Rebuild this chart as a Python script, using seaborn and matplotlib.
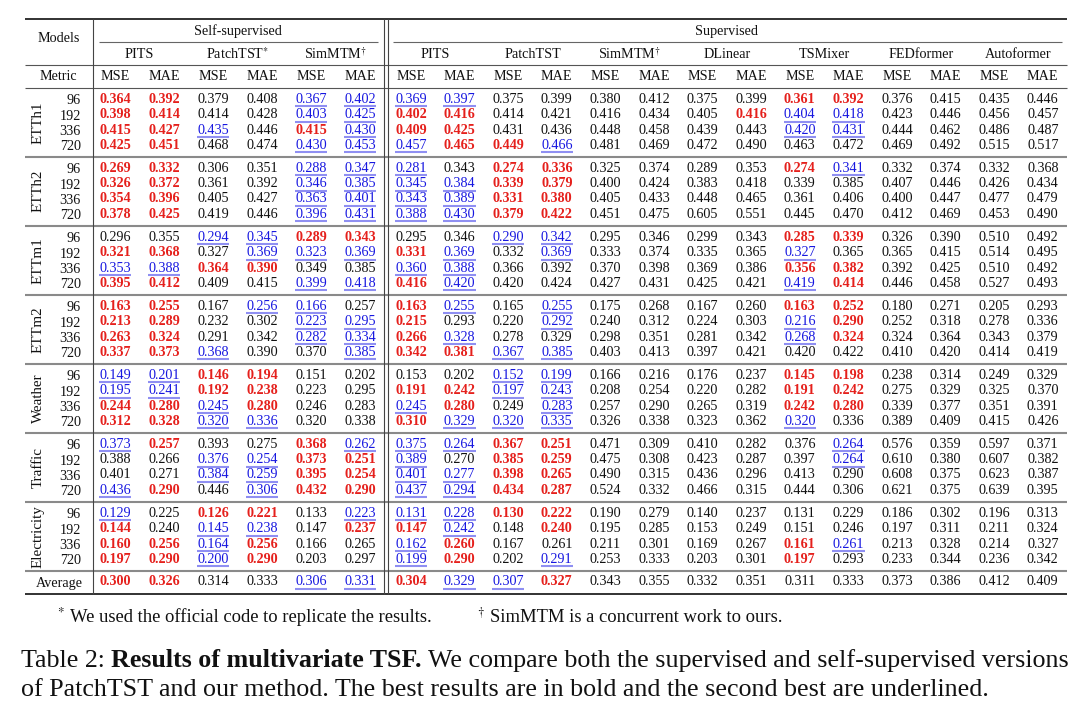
import numpy as np
import pandas as pd
import matplotlib
matplotlib.use("Agg")
import matplotlib.pyplot as plt
from matplotlib.colors import ListedColormap
import seaborn as sns

# ---------------- data ----------------
datasets = ["ETTh1", "ETTh2", "ETTm1", "ETTm2", "Weather", "Traffic", "Electricity"]
horizons = ["96", "192", "336", "720"]
ssl_models = ["PITS", "PatchTST*", "SimMTM†"]
sup_models = ["PITS", "PatchTST", "SimMTM†", "DLinear", "TSMixer", "FEDformer", "Autoformer"]
metrics = ["MSE", "MAE"]

etth1 = [
    [0.364, 0.392, 0.379, 0.408, 0.367, 0.402, 0.369, 0.397, 0.375, 0.399, 0.380, 0.412, 0.375, 0.399, 0.361, 0.392, 0.376, 0.415, 0.435, 0.446],
    [0.398, 0.414, 0.414, 0.428, 0.403, 0.425, 0.402, 0.416, 0.414, 0.421, 0.416, 0.434, 0.405, 0.416, 0.404, 0.418, 0.423, 0.446, 0.456, 0.457],
    [0.415, 0.427, 0.435, 0.446, 0.415, 0.430, 0.409, 0.425, 0.431, 0.436, 0.448, 0.458, 0.439, 0.443, 0.420, 0.431, 0.444, 0.462, 0.486, 0.487],
    [0.425, 0.451, 0.468, 0.474, 0.430, 0.453, 0.457, 0.465, 0.449, 0.466, 0.481, 0.469, 0.472, 0.490, 0.463, 0.472, 0.469, 0.492, 0.515, 0.517],
]
etth1_rank = ["rr..bbbb......rr....", "rr..bbrr.....rbb....", "rrb.rbrr......bb....", "rr..bbbrrb.........."]

etth2 = [
    [0.269, 0.332, 0.306, 0.351, 0.288, 0.347, 0.281, 0.343, 0.274, 0.336, 0.325, 0.374, 0.289, 0.353, 0.274, 0.341, 0.332, 0.374, 0.332, 0.368],
    [0.326, 0.372, 0.361, 0.392, 0.346, 0.385, 0.345, 0.384, 0.339, 0.379, 0.400, 0.424, 0.383, 0.418, 0.339, 0.385, 0.407, 0.446, 0.426, 0.434],
    [0.354, 0.396, 0.405, 0.427, 0.363, 0.401, 0.343, 0.389, 0.331, 0.380, 0.405, 0.433, 0.448, 0.465, 0.361, 0.406, 0.400, 0.447, 0.477, 0.479],
    [0.378, 0.425, 0.419, 0.446, 0.396, 0.431, 0.388, 0.430, 0.379, 0.422, 0.451, 0.475, 0.605, 0.551, 0.445, 0.470, 0.412, 0.469, 0.453, 0.490],
]
etth2_rank = ["rr..bbb.rr....rb....", "rr..bbbbrr..........", "rr..bbbbrr..........", "rr..bbbbrr.........."]

ettm1 = [
    [0.296, 0.355, 0.294, 0.345, 0.289, 0.343, 0.295, 0.346, 0.290, 0.342, 0.295, 0.346, 0.299, 0.343, 0.285, 0.339, 0.326, 0.390, 0.510, 0.492],
    [0.321, 0.368, 0.327, 0.369, 0.323, 0.369, 0.331, 0.369, 0.332, 0.369, 0.333, 0.374, 0.335, 0.365, 0.327, 0.365, 0.365, 0.415, 0.514, 0.495],
    [0.353, 0.388, 0.364, 0.390, 0.349, 0.385, 0.360, 0.388, 0.366, 0.392, 0.370, 0.398, 0.369, 0.386, 0.356, 0.382, 0.392, 0.425, 0.510, 0.492],
    [0.395, 0.412, 0.409, 0.415, 0.399, 0.418, 0.416, 0.420, 0.420, 0.424, 0.427, 0.431, 0.425, 0.421, 0.419, 0.414, 0.446, 0.458, 0.527, 0.493],
]
ettm1_rank = ["..bbrr..bb....rr....", "rr.bbbrb.b....b.....", "bbrr..bb......rr....", "rr..bbrb......br...."]

ettm2 = [
    [0.163, 0.255, 0.167, 0.256, 0.166, 0.257, 0.163, 0.255, 0.165, 0.255, 0.175, 0.268, 0.167, 0.260, 0.163, 0.252, 0.180, 0.271, 0.205, 0.293],
    [0.213, 0.289, 0.232, 0.302, 0.223, 0.295, 0.215, 0.293, 0.220, 0.292, 0.240, 0.312, 0.224, 0.303, 0.216, 0.290, 0.252, 0.318, 0.278, 0.336],
    [0.263, 0.324, 0.291, 0.342, 0.282, 0.334, 0.266, 0.328, 0.278, 0.329, 0.298, 0.351, 0.281, 0.342, 0.268, 0.324, 0.324, 0.364, 0.343, 0.379],
    [0.337, 0.373, 0.368, 0.390, 0.370, 0.385, 0.342, 0.381, 0.367, 0.385, 0.403, 0.413, 0.397, 0.421, 0.420, 0.422, 0.410, 0.420, 0.414, 0.419],
]
ettm2_rank = ["rr.bb.rb.b....rr....", "rr..bbr..b....br....", "rr..bbrb......br....", "rrb..brrbb.........."]

weather = [
    [0.149, 0.201, 0.146, 0.194, 0.151, 0.202, 0.153, 0.202, 0.152, 0.199, 0.166, 0.216, 0.176, 0.237, 0.145, 0.198, 0.238, 0.314, 0.249, 0.329],
    [0.195, 0.241, 0.192, 0.238, 0.223, 0.295, 0.191, 0.242, 0.197, 0.243, 0.208, 0.254, 0.220, 0.282, 0.191, 0.242, 0.275, 0.329, 0.325, 0.370],
    [0.244, 0.280, 0.245, 0.280, 0.246, 0.283, 0.245, 0.280, 0.249, 0.283, 0.257, 0.290, 0.265, 0.319, 0.242, 0.280, 0.339, 0.377, 0.351, 0.391],
    [0.312, 0.328, 0.320, 0.336, 0.320, 0.338, 0.310, 0.329, 0.320, 0.335, 0.326, 0.338, 0.323, 0.362, 0.320, 0.336, 0.389, 0.409, 0.415, 0.426],
]
weather_rank = ["bbrr....bb....rr....", "bbrr..rrbb....rr....", "rrbr..br.b....rr....", "rrbb..rbbb....b....."]

traffic = [
    [0.373, 0.257, 0.393, 0.275, 0.368, 0.262, 0.375, 0.264, 0.367, 0.251, 0.471, 0.309, 0.410, 0.282, 0.376, 0.264, 0.576, 0.359, 0.597, 0.371],
    [0.388, 0.266, 0.376, 0.254, 0.373, 0.251, 0.389, 0.270, 0.385, 0.259, 0.475, 0.308, 0.423, 0.287, 0.397, 0.264, 0.610, 0.380, 0.607, 0.382],
    [0.401, 0.271, 0.384, 0.259, 0.395, 0.254, 0.401, 0.277, 0.398, 0.265, 0.490, 0.315, 0.436, 0.296, 0.413, 0.290, 0.608, 0.375, 0.623, 0.387],
    [0.436, 0.290, 0.446, 0.306, 0.432, 0.290, 0.437, 0.294, 0.434, 0.287, 0.524, 0.332, 0.466, 0.315, 0.444, 0.306, 0.621, 0.375, 0.639, 0.395],
]
traffic_rank = ["br..rbbbrr.....b....", "..bbrrb.rr.....b....", "..bbrrbbrr..........", "br.brrbbrr.........."]

electricity = [
    [0.129, 0.225, 0.126, 0.221, 0.133, 0.223, 0.131, 0.228, 0.130, 0.222, 0.190, 0.279, 0.140, 0.237, 0.131, 0.229, 0.186, 0.302, 0.196, 0.313],
    [0.144, 0.240, 0.145, 0.238, 0.147, 0.237, 0.147, 0.242, 0.148, 0.240, 0.195, 0.285, 0.153, 0.249, 0.151, 0.246, 0.197, 0.311, 0.211, 0.324],
    [0.160, 0.256, 0.164, 0.256, 0.166, 0.265, 0.162, 0.260, 0.167, 0.261, 0.211, 0.301, 0.169, 0.267, 0.161, 0.261, 0.213, 0.328, 0.214, 0.327],
    [0.197, 0.290, 0.200, 0.290, 0.203, 0.297, 0.199, 0.290, 0.202, 0.291, 0.253, 0.333, 0.203, 0.301, 0.197, 0.293, 0.233, 0.344, 0.236, 0.342],
]
electricity_rank = ["b.rr.bbbrr..........", "r.bb.rrb.r..........", "rrbr..br......rb....", "rrbr..br.b....r....."]

average = [[0.300, 0.326, 0.314, 0.333, 0.306, 0.331, 0.304, 0.329, 0.307, 0.327, 0.343, 0.355, 0.332, 0.351, 0.311, 0.333, 0.373, 0.386, 0.412, 0.409]]
average_rank = ["rr..bbrbbr.........."]

footnote_star = "We used the official code to replicate the results."
footnote_dagger = "SimMTM is a concurrent work to ours."
caption_label = "Table 2:"
caption_bold = "Results of multivariate TSF."
caption_rest = "We compare both the supervised and self-supervised versions"
caption_line2 = "of PatchTST and our method. The best results are in bold and the second best are underlined."

tables = [etth1, etth2, ettm1, ettm2, weather, traffic, electricity]
ranks = [etth1_rank, etth2_rank, ettm1_rank, ettm2_rank, weather_rank, traffic_rank, electricity_rank]

# ---------------- style ----------------
sns.set_theme(style="white")
SERIF = "Liberation Serif"
plt.rcParams["font.family"] = [SERIF, "DejaVu Serif"]
plt.rcParams["mathtext.fontset"] = "stix"
plt.rcParams["text.color"] = "#111111"

FS = 10.2
RED = "#e5201c"
BLUE = "#1717e0"
ULINE = "#8f8ff2"
INK = "#111111"

W, H = 1080, 707
fig = plt.figure(figsize=(W / 100, H / 100), dpi=100)
fig.patch.set_facecolor("white")

base = fig.add_axes([0, 0, 1, 1])
base.set_xlim(0, W)
base.set_ylim(H, 0)
base.axis("off")


def px_axes(x0, y0, w, h, z=2):
    ax = fig.add_axes([x0 / W, 1 - (y0 + h) / H, w / W, h / H], zorder=z)
    return ax


# layout
LEFT_X0, LEFT_CW, LEFT_N = 90.5, 49.0, 6
RIGHT_X0, RIGHT_CW, RIGHT_N = 386.7, 48.6, 14
TOP = 18.5
RULE_METRIC = 87.7
BLOCK = 69.0
PITCH = 15.4
FIRST_OFF = 11.5
TABLE_L, TABLE_R = 25, 1067
BOTTOM = 593.5

left_centers = [LEFT_X0 + LEFT_CW * (j + 0.5) for j in range(LEFT_N)]
right_centers = [RIGHT_X0 + RIGHT_CW * (j + 0.5) for j in range(RIGHT_N)]
all_centers = left_centers + right_centers

transparent = ListedColormap([(1, 1, 1, 0)])


def draw_grid(vals, rank, y_first_center):
    arr = np.array(vals)
    nrows = arr.shape[0]
    for x0, cw, lo, hi in [(LEFT_X0, LEFT_CW, 0, 6), (RIGHT_X0, RIGHT_CW, 6, 20)]:
        df = pd.DataFrame(arr[:, lo:hi])
        ax = px_axes(x0, y_first_center - PITCH / 2, cw * (hi - lo), PITCH * nrows)
        sns.heatmap(df, ax=ax, annot=True, fmt=".3f", cmap=transparent, vmin=0, vmax=1,
                    cbar=False, xticklabels=False, yticklabels=False,
                    annot_kws=dict(fontsize=FS, family=SERIF))
        ax.set_facecolor("none")
        ax.axis("off")
        hw = 16.2 / cw
        for t in ax.texts:
            x, y = t.get_position()
            j, i = int(x), int(y)
            code = rank[i][lo + j]
            t.set_color(INK)
            if code == "r":
                t.set_color(RED)
                t.set_fontweight("bold")
            elif code == "b":
                t.set_color(BLUE)
                uy = i + 0.5 + 7.0 / PITCH
                ax.plot([j + 0.5 - hw, j + 0.5 + hw], [uy, uy], color=ULINE, lw=1.5,
                        clip_on=False, solid_capstyle="butt")


for b, (vals, rank) in enumerate(zip(tables, ranks)):
    assert all(len(r) == 20 for r in rank)
    top = RULE_METRIC + BLOCK * b
    first = top + FIRST_OFF
    draw_grid(vals, rank, first)
    for i, hz in enumerate(horizons):
        base.text(81, first + PITCH * i, hz, ha="right", va="center_baseline", fontsize=FS, color=INK)
    base.text(38, first + PITCH * 1.5, datasets[b], rotation=90, ha="center", va="center",
              fontsize=FS + 0.6, color=INK)

avg_center = RULE_METRIC + BLOCK * 7 + 11.0
draw_grid(average, average_rank, avg_center)
base.text(59, avg_center, "Average", ha="center", va="center_baseline", fontsize=FS, color=INK)


def mt(label):
    return label.replace("*", r"$^{*}$").replace("†", r"$^{\dagger}$")


# header
base.text(59, 36.5, "Models", ha="center", va="center_baseline", fontsize=FS, color=INK)
base.text((LEFT_X0 + LEFT_X0 + LEFT_CW * LEFT_N) / 2, 30, "Self-supervised", ha="center",
          va="center_baseline", fontsize=FS, color=INK)
base.text((RIGHT_X0 + RIGHT_X0 + RIGHT_CW * RIGHT_N) / 2, 30, "Supervised", ha="center",
          va="center_baseline", fontsize=FS, color=INK)
models_all = ssl_models + sup_models
for k, m in enumerate(models_all):
    cx = (all_centers[2 * k] + all_centers[2 * k + 1]) / 2
    base.text(cx, 53, mt(m), ha="center", va="center_baseline", fontsize=FS, color=INK)
base.text(58, 75.5, "Metric", ha="center", va="center_baseline", fontsize=FS, color=INK)
for k, cx in enumerate(all_centers):
    base.text(cx, 75.5, metrics[k % 2], ha="center", va="center_baseline", fontsize=FS, color=INK)

# rules (overlay)
lines = fig.add_axes([0, 0, 1, 1], zorder=10)
lines.set_xlim(0, W)
lines.set_ylim(H, 0)
lines.axis("off")
lines.set_facecolor("none")
lines.hlines([TOP, BOTTOM], TABLE_L, TABLE_R, color="#222222", lw=1.3)
lines.hlines([41.7], 99, 378, color="#666666", lw=0.8)
lines.hlines([41.7], 393, 1062, color="#666666", lw=0.8)
lines.hlines([65.0, RULE_METRIC], TABLE_L, TABLE_R, color="#555555", lw=0.8)
lines.hlines([RULE_METRIC + BLOCK * k for k in range(1, 8)], TABLE_L, TABLE_R, color="#8a8a8a", lw=1.5)
lines.vlines([92.7, 384.3, 387.6], TOP, BOTTOM, color="#444444", lw=0.8)

# footnotes and caption
fig.canvas.draw()
renderer = fig.canvas.get_renderer()


def width_px(s, size, weight="normal"):
    t = base.text(0, 0, s, fontsize=size, fontweight=weight)
    w = t.get_window_extent(renderer).width
    t.remove()
    return w


def space_px(size, weight="normal"):
    return width_px("x x", size, weight) - width_px("xx", size, weight)


def run(x, y, pieces, size):
    for s, weight in pieces:
        t = base.text(x, y, s, fontsize=size, fontweight=weight, ha="left", va="baseline", color="#111111")
        x += t.get_window_extent(renderer).width + space_px(size, weight)
    return x


def fit(pieces, target):
    ref = 10.0
    total = sum(width_px(s, ref, w) for s, w in pieces) + sum(space_px(ref, w) for s, w in pieces[:-1])
    return ref * target / total


fn_pieces1 = [(r"$^{*}$", "normal"), (footnote_star, "normal")]
fn_size = fit(fn_pieces1, 375)
run(57, 622, fn_pieces1, fn_size)
run(477, 622, [(r"$^{\dagger}$", "normal"), (footnote_dagger, "normal")], fn_size)

cap1 = [(caption_label, "normal"), (caption_bold, "bold"), (caption_rest, "normal")]
cap_size = fit(cap1, 1050)
run(21, 667, cap1, cap_size)
run(21, 696, [(caption_line2, "normal")], cap_size)

fig.savefig("out.png", dpi=100, facecolor="white")
